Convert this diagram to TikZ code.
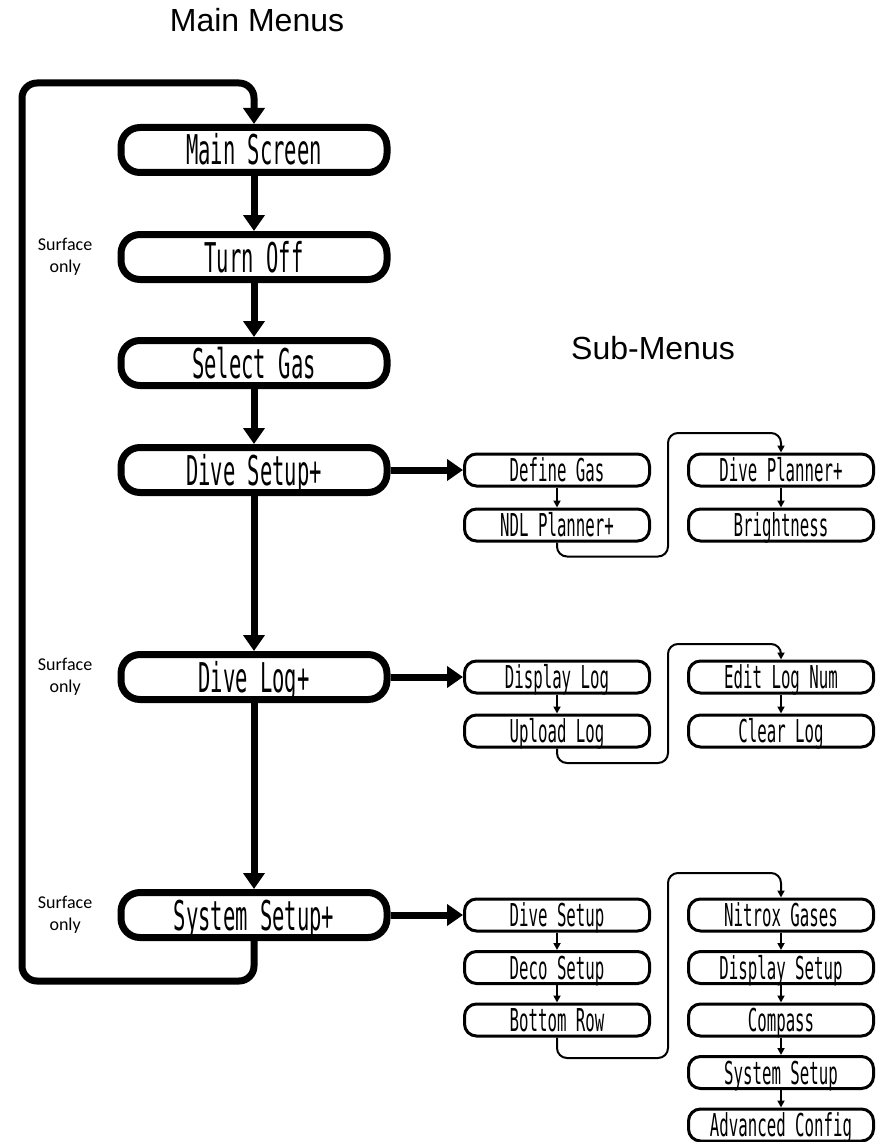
\documentclass[tikz,border=0pt]{standalone}
\usepackage{fontspec}
\newfontfamily\lcdfont[FakeStretch=0.5]{DejaVu Sans Mono}
\newfontfamily\headfont{Liberation Sans}
\newfontfamily\notefont{Carlito}
\usetikzlibrary{positioning,arrows.meta}
\tikzset{
  menubox/.style={draw, line width=7pt, rounded corners=19pt, minimum width=266pt, minimum height=45pt, inner sep=0pt, text height=30pt, text depth=0pt, font=\lcdfont\fontsize{41}{41}\selectfont},
  subbox/.style={draw, line width=3pt, rounded corners=12pt, minimum width=185pt, minimum height=32pt, inner sep=0pt, text height=23pt, text depth=0pt, font=\lcdfont\fontsize{31.5}{31.5}\selectfont},
  bigarrow/.style={line width=7pt, -{Triangle[width=21pt,length=16pt]}},
  smallarrow/.style={line width=2pt, rounded corners=10pt, -{Triangle[width=7pt,length=7pt]}},
  looppath/.style={line width=7pt, rounded corners=15pt, -{Triangle[width=21pt,length=16pt]}},
  heading/.style={font=\headfont\fontsize{32}{32}\selectfont},
  surfnote/.style={font=\notefont\fontsize{18}{22}\selectfont, align=center, inner sep=0pt}
}
\begin{document}
\begin{tikzpicture}[x=1pt,y=-1pt]
	\useasboundingbox (0,0) rectangle (884,1142);
	% headings
	\node[heading] (maintitle) at (257,20) {Main Menus};
	\node[heading] (subtitle) at (653,348) {Sub-Menus};
	% main menus
	\node[menubox] (mscreen) at (254,150) {Main Screen};
	\node[menubox, below=55pt of mscreen] (toff) {Turn Off};
	\node[menubox, below=54pt of toff] (sgas) {Select Gas};
	\node[menubox, below=55pt of sgas] (dsetup) {Dive Setup+};
	\node[menubox, below=155pt of dsetup] (dlog) {Dive Log+};
	\node[menubox, below=186pt of dlog] (syssetup) {System Setup+};
	\node[surfnote, left=25pt of toff] (surf1) {Surface\\only};
	\node[surfnote, left=25pt of dlog] (surf2) {Surface\\only};
	\node[surfnote, left=25pt of syssetup] (surf3) {Surface\\only};
	\draw[bigarrow] (mscreen) -- (toff);
	\draw[bigarrow] (toff) -- (sgas);
	\draw[bigarrow] (sgas) -- (dsetup);
	\draw[bigarrow] (dsetup) -- (dlog);
	\draw[bigarrow] (dlog) -- (syssetup);
	\coordinate (loopturn) at (22,83);
	\draw[looppath] (syssetup.south) -- ++(0,40) -| (loopturn) -| (mscreen.north);
	% dive setup sub-menus
	\node[subbox, right=72.5pt of dsetup] (dgas) {Define Gas};
	\node[subbox, below=20pt of dgas] (ndl) {NDL Planner+};
	\node[subbox, right=36pt of dgas] (dpl) {Dive Planner+};
	\node[subbox, below=20pt of dpl] (bright) {Brightness};
	\draw[bigarrow] (dsetup) -- (dgas);
	\draw[smallarrow] (dgas) -- (ndl);
	\draw[smallarrow] (ndl.south) -- ++(0,14) -- ++(111,0) |- ([yshift=19.5pt]dpl.north) -- (dpl.north);
	\draw[smallarrow] (dpl) -- (bright);
	% dive log sub-menus
	\node[subbox, right=72.5pt of dlog] (disp) {Display Log};
	\node[subbox, below=19pt of disp] (upl) {Upload Log};
	\node[subbox, right=36pt of disp] (edit) {Edit Log Num};
	\node[subbox, below=19pt of edit] (clear) {Clear Log};
	\draw[bigarrow] (dlog) -- (disp);
	\draw[smallarrow] (disp) -- (upl);
	\draw[smallarrow] (upl.south) -- ++(0,14.5) -- ++(111,0) |- ([yshift=15.5pt]edit.north) -- (edit.north);
	\draw[smallarrow] (edit) -- (clear);
	% system setup sub-menus
	\node[subbox, right=72.5pt of syssetup] (dvs) {Dive Setup};
	\node[subbox, below=17.5pt of dvs] (deco) {Deco Setup};
	\node[subbox, below=17.5pt of deco] (brow) {Bottom Row};
	\node[subbox, right=36pt of dvs] (nitrox) {Nitrox Gases};
	\node[subbox, below=17.5pt of nitrox] (dispset) {Display Setup};
	\node[subbox, below=17.5pt of dispset] (compass) {Compass};
	\node[subbox, below=17.5pt of compass] (syssub) {System Setup};
	\node[subbox, below=17.5pt of syssub] (advcfg) {Advanced Config};
	\draw[bigarrow] (syssetup) -- (dvs);
	\draw[smallarrow] (dvs) -- (deco);
	\draw[smallarrow] (deco) -- (brow);
	\draw[smallarrow] (brow.south) -- ++(0,20.5) -- ++(111,0) |- ([yshift=24.5pt]nitrox.north) -- (nitrox.north);
	\draw[smallarrow] (nitrox) -- (dispset);
	\draw[smallarrow] (dispset) -- (compass);
	\draw[smallarrow] (compass) -- (syssub);
	\draw[smallarrow] (syssub) -- (advcfg);
\end{tikzpicture}
\end{document}
